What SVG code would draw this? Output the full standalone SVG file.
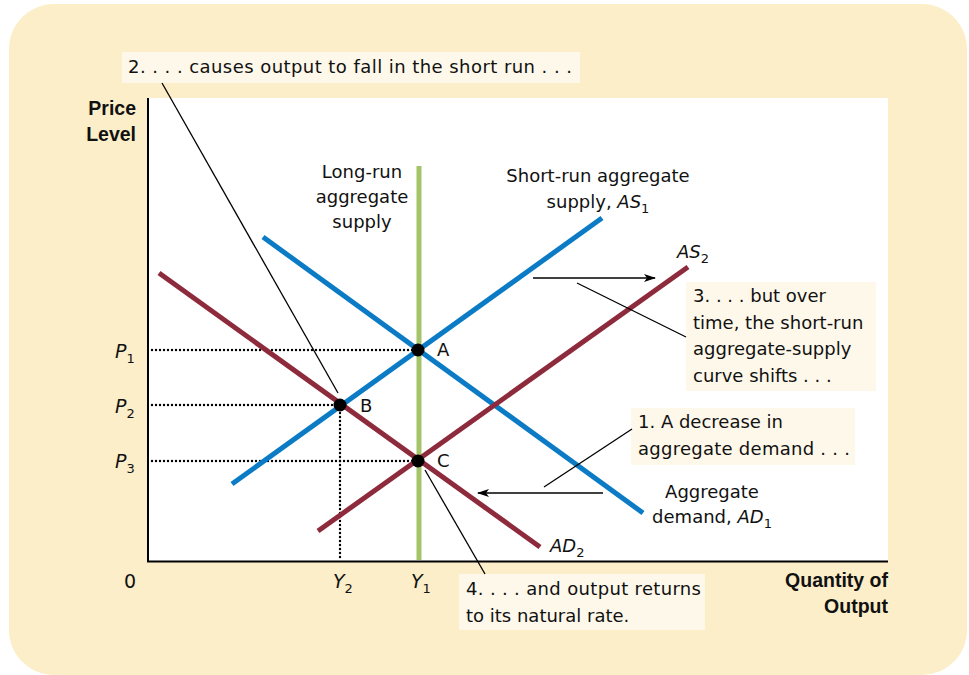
<svg xmlns="http://www.w3.org/2000/svg" width="969" height="675" viewBox="0 0 969 675">
<style>
.t{font-family:"DejaVu Sans","Liberation Sans",sans-serif;font-size:18px;fill:#111}
.b{font-family:"Liberation Sans",Arial,sans-serif;font-size:19.5px;font-weight:bold;fill:#111}
.i{font-style:italic}
.lab{font-size:19px}
.box{fill:#fef8ea}
.lead{stroke:#000;stroke-width:1.3;fill:none}
.dot{stroke:#000;stroke-width:2.4;stroke-dasharray:0 4;stroke-linecap:round;fill:none}
.blue{stroke:#0a7bc4;stroke-width:5;fill:none}
.red{stroke:#8d2a3b;stroke-width:5;fill:none}
.pt{fill:#000}
</style>
<defs>
<marker id="ah" viewBox="0 0 12 8" refX="11" refY="4" markerWidth="12" markerHeight="8" markerUnits="userSpaceOnUse" orient="auto">
<path d="M0,0 L12,4 L0,8 L3,4 Z" fill="#000"/>
</marker>
</defs>
<rect x="9" y="4" width="958" height="671" rx="45" fill="#fbeec8"/>
<rect x="148" y="98" width="740" height="464" fill="#fff"/>

<g id="axes">
<line x1="148" y1="98" x2="148" y2="562" stroke="#000" stroke-width="2"/>
<line x1="147" y1="561.5" x2="888" y2="561.5" stroke="#000" stroke-width="2"/>
<text class="b" x="136" y="115" text-anchor="end">Price</text>
<text class="b" x="136" y="141" text-anchor="end">Level</text>
<text class="b" x="888" y="587" text-anchor="end">Quantity of</text>
<text class="b" x="888" y="613" text-anchor="end">Output</text>
<text class="t lab" x="130" y="588" text-anchor="middle">0</text>
<text class="t lab" x="333" y="588"><tspan class="i">Y</tspan><tspan font-size="13" dy="5">2</tspan></text>
<text class="t lab" x="411" y="588"><tspan class="i">Y</tspan><tspan font-size="13" dy="5">1</tspan></text>
<text class="t lab" x="115" y="358"><tspan class="i">P</tspan><tspan font-size="13" dy="5">1</tspan></text>
<text class="t lab" x="115" y="413"><tspan class="i">P</tspan><tspan font-size="13" dy="5">2</tspan></text>
<text class="t lab" x="115" y="468"><tspan class="i">P</tspan><tspan font-size="13" dy="5">3</tspan></text>
</g>

<g id="guides">
<line class="dot" x1="152" y1="350" x2="418" y2="350"/>
<line class="dot" x1="152" y1="405" x2="340" y2="405"/>
<line class="dot" x1="152" y1="461" x2="418" y2="461"/>
<line class="dot" x1="340" y1="405" x2="340" y2="561"/>
</g>

<g id="lras">
<line x1="419" y1="166" x2="419" y2="560" stroke="#a3c46a" stroke-width="5"/>
<text class="t" x="362" y="178" text-anchor="middle">Long-run</text>
<text class="t" x="362" y="203" text-anchor="middle">aggregate</text>
<text class="t" x="362" y="228" text-anchor="middle">supply</text>
</g>

<g id="as1">
<line class="blue" x1="232" y1="484" x2="602" y2="218"/>
<text class="t" x="598" y="182" text-anchor="middle">Short-run aggregate</text>
<text class="t" x="598" y="208" text-anchor="middle">supply, <tspan class="i">AS</tspan><tspan font-size="13" dy="5">1</tspan></text>
</g>

<g id="ad1">
<line class="blue" x1="263" y1="237" x2="643" y2="513"/>
<text class="t" x="712" y="498" text-anchor="middle">Aggregate</text>
<text class="t" x="712" y="523" text-anchor="middle">demand, <tspan class="i">AD</tspan><tspan font-size="13" dy="5">1</tspan></text>
</g>

<g id="ad2">
<line class="red" x1="159" y1="273" x2="540" y2="547"/>
<text class="t" x="550" y="552"><tspan class="i">AD</tspan><tspan font-size="13" dy="5">2</tspan></text>
</g>

<g id="as2">
<line class="red" x1="318" y1="531" x2="688" y2="267"/>
<text class="t" x="677" y="258"><tspan class="i">AS</tspan><tspan font-size="13" dy="5">2</tspan></text>
</g>

<g id="pointA">
<circle class="pt" cx="418" cy="350" r="6.5"/>
<text class="t" x="437" y="356">A</text>
</g>
<g id="pointB">
<circle class="pt" cx="340" cy="405" r="6.5"/>
<text class="t" x="360" y="412">B</text>
</g>
<g id="pointC">
<circle class="pt" cx="418" cy="461" r="6.5"/>
<text class="t" x="437" y="467">C</text>
</g>

<g id="label2">
<rect class="box" x="122" y="52" width="458" height="31"/>
<text class="t" x="128" y="73" textLength="444" lengthAdjust="spacing">2. . . . causes output to fall in the short run . . .</text>
</g>
<g id="label1">
<rect class="box" x="631" y="408" width="224" height="57"/>
<text class="t" x="638" y="428">1. A decrease in</text>
<text class="t" x="638" y="455" textLength="212" lengthAdjust="spacing">aggregate demand . . .</text>
</g>
<g id="label3">
<rect class="box" x="686" y="282" width="190" height="109"/>
<text class="t" x="693" y="302">3. . . . but over</text>
<text class="t" x="693" y="329">time, the short-run</text>
<text class="t" x="693" y="355">aggregate-supply</text>
<text class="t" x="693" y="382">curve shifts . . .</text>
</g>
<g id="label4">
<rect class="box" x="459" y="574" width="246" height="56"/>
<text class="t" x="466" y="595" textLength="235" lengthAdjust="spacing">4. . . . and output returns</text>
<text class="t" x="466" y="622">to its natural rate.</text>
</g>

<g id="connectors">
<line class="lead" x1="162" y1="83" x2="338" y2="393"/>
<line class="lead" x1="577" y1="283" x2="686" y2="337"/>
<line class="lead" x1="544" y1="487" x2="632" y2="429"/>
<line class="lead" x1="425" y1="470" x2="485" y2="574"/>
<line class="lead" x1="533" y1="278" x2="655" y2="278" marker-end="url(#ah)"/>
<line class="lead" x1="603" y1="493" x2="478" y2="493" marker-end="url(#ah)"/>
</g>
</svg>
